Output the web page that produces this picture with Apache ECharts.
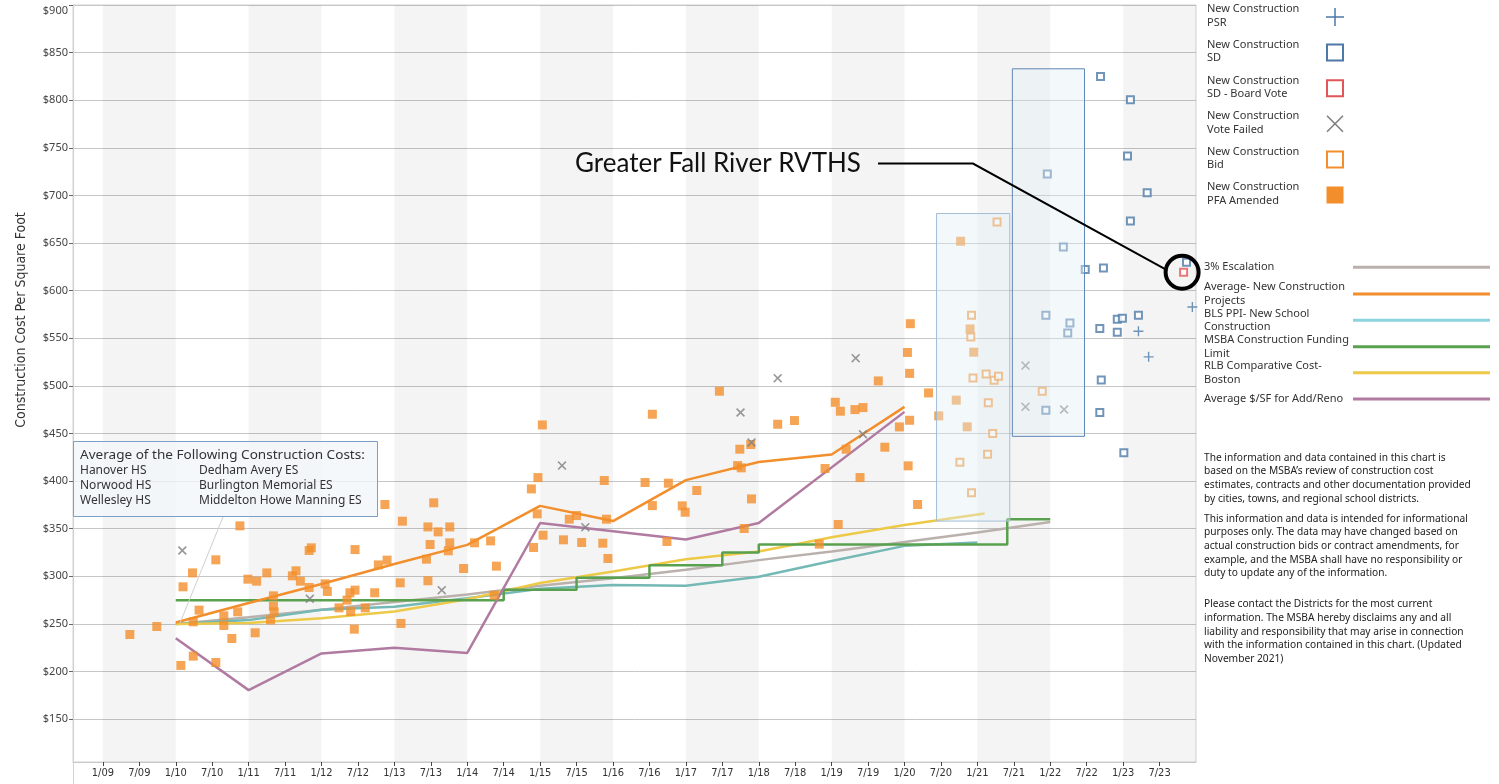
<!DOCTYPE html>
<html><head><meta charset="utf-8">
<script src="https://cdn.jsdelivr.net/npm/echarts@6/dist/echarts.min.js"></script>
<style>html,body{margin:0;padding:0;background:#fff}#c{width:1499px;height:784px}</style>
</head><body><div id="c"></div>
<script>
// ---------- axis ticks ----------
const xTickValues = [2009,2009.5,2010,2010.5,2011,2011.5,2012,2012.5,2013,2013.5,2014,2014.5,2015,2015.5,2016,2016.5,2017,2017.5,2018,2018.5,2019,2019.5,2020,2020.5,2021,2021.5,2022,2022.5,2023,2023.5];
const xTickLabels = ['1/09','7/09','1/10','7/10','1/11','7/11','1/12','7/12','1/13','7/13','1/14','7/14','1/15','7/15','1/16','7/16','1/17','7/17','1/18','7/18','1/19','7/19','1/20','7/20','1/21','7/21','1/22','7/22','1/23','7/23'];
const yTickValues = [150,200,250,300,350,400,450,500,550,600,650,700,750,800,850,900];
const yTickLabels = ['$150','$200','$250','$300','$350','$400','$450','$500','$550','$600','$650','$700','$750','$800','$850','$900'];
const shadedYears = [2009,2011,2013,2015,2017,2019,2021,2023];

// ---------- scatter series (decimal year, $/sf) ----------
const pfaAmended = [
 [2009.37,238.9],[2009.74,247.3],[2010.07,206.4],[2010.10,289.0],[2010.23,303.6],[2010.24,216.2],[2010.24,252.2],[2010.32,264.5],[2010.55,317.3],[2010.55,209.5],
 [2010.66,258.5],[2010.66,248.4],[2010.77,234.7],[2010.85,262.7],[2010.88,353.0],[2010.99,297.0],[2011.11,294.9],[2011.09,240.7],[2011.25,303.6],[2011.34,279.5],
 [2011.34,268.7],[2011.35,262.7],[2011.30,254.3],[2011.60,300.5],[2011.65,305.8],[2011.71,294.9],[2011.83,327.1],[2011.86,329.9],[2011.83,288.3],[2012.05,292.1],
 [2012.08,284.1],[2012.24,266.9],[2012.35,275.0],[2012.39,282.7],[2012.46,328.1],[2012.46,285.5],[2012.40,263.1],[2012.45,244.5],[2012.60,266.9],[2012.73,282.7],
 [2012.78,312.0],[2012.90,317.0],[2012.87,375.4],
 [2013.11,357.9],[2013.54,377.2],[2013.46,351.9],[2013.76,351.9],[2013.60,346.7],[2013.49,333.4],[2013.76,335.2],[2013.74,326.8],[2013.44,318.0],[2013.95,308.2],
 [2014.10,335.2],[2014.32,337.2],[2014.40,310.7],[2013.08,293.2],[2013.46,295.3],[2013.09,250.5],[2014.37,280.2],[2015.03,459.0],[2014.97,403.7],[2014.88,391.8],
 [2014.96,365.6],[2015.04,343.2],[2014.91,330.3],[2015.40,360.0],[2015.50,363.8],[2015.32,338.3],[2015.57,335.5],[2015.86,334.8],[2015.93,318.7],[2015.91,360.0],
 [2015.88,400.6],[2016.54,470.2],[2016.44,398.5],[2016.76,397.8],[2016.54,374.3],[2016.74,336.6],[2016.95,374.0],[2016.99,367.3],[2017.15,390.1],[2017.46,494.4],
 [2017.74,433.5],[2017.89,438.4],[2017.71,416.3],[2017.76,413.9],[2017.90,381.3],[2017.80,350.2],[2018.26,459.7],[2018.49,463.6],[2019.05,482.8],[2019.12,473.4],
 [2019.32,475.1],[2019.43,477.2],[2019.64,505.2],[2020.33,492.6],[2019.93,456.9],[2020.07,463.9],[2019.73,435.6],[2020.05,416.0],[2020.18,375.4],[2019.39,403.7],
 [2018.91,413.2],[2019.20,433.5],[2019.09,354.4],[2018.83,333.8],
 [2020.08,565.3],[2020.04,535.1],[2020.07,513.1],
 [2020.77,651.9],[2020.90,559.8],[2020.95,535.4],[2020.71,485.0],[2020.47,468.5],[2020.86,457.0]
];
const bid = [[2021.27,672.2],[2020.92,574.2],[2020.91,551.4],[2020.94,508.4],[2021.12,512.6],[2021.23,506.0],[2021.29,510.2],[2021.15,482.2],[2021.21,450.0],[2021.14,428.3],[2020.76,419.9],[2020.92,387.7],[2021.89,494.4]];
const voteFailed = [[2010.09,327.1],[2011.84,276.4],[2013.65,285.5],[2015.30,416.3],[2015.62,351.6],[2017.75,472.0],[2017.90,440.5],[2019.43,449.2],[2018.26,508.1],[2019.33,529.1],[2021.66,521.3],[2021.66,478.0],[2022.19,475.2]];
const sd = [[2022.18,645.9],[2022.48,622.1],[2022.73,623.9],[2021.94,574.2],[2022.27,566.1],[2022.24,555.6],[2022.68,560.2],[2022.92,570.0],[2022.99,571.0],[2023.21,574.2],[2022.92,556.3],[2022.70,506.3],[2021.94,474.5],[2022.68,472.0],[2023.01,429.7],[2023.87,629.8],[2023.10,673.2],[2022.69,825.0],[2023.10,800.5],[2023.06,741.3],[2023.33,702.8],[2021.96,722.4]];
const sdBoardVote = [[2023.83,619.3]];
const psr = [[2023.21,557.4],[2023.35,530.5],[2023.95,582.9]];

// ---------- line series ----------
const escalation3 = [[2010,250],[2011,257],[2012,265],[2013,273],[2014,281],[2015,290],[2016,298],[2017,307],[2018,317],[2019,326],[2020,336],[2021,346],[2022,357]];
const avgNewConstruction = [[2010,251.5],[2011,272],[2012,292],[2013,313],[2014,333],[2015,374],[2016,358],[2017,401],[2018,420],[2019,428],[2020,478]];
const blsPPI = [[2010,250],[2011,254],[2012,265],[2013,268],[2014,277],[2015,287],[2016,291],[2017,290],[2018,299.5],[2019,316],[2020,332],[2021,335.5]];
const msbaLimit = [[2010,275],[2014.5,286],[2015.5,298.5],[2016.5,311.5],[2017.5,325],[2018,333.5],[2021.41,360],[2022,360]];
const rlbBoston = [[2010,250],[2011,251],[2012,256],[2013,263],[2014,276],[2015,293],[2016,305],[2017,318],[2018,326],[2019,341],[2020,354],[2021.1,366]];
const addReno = [[2010,235],[2011,180.5],[2012,219],[2013,225],[2014,219.5],[2015,356],[2017,338.6],[2018,356],[2020,472.7]];

// highlighted windows [x0, y0, x1, y1]
const highlightBoxes = [[2020.44,358,2021.445,681],[2021.48,447,2022.47,833]];

// ---------- legend text ----------
const markerLegendNames = ['New Construction\nPSR','New Construction\nSD','New Construction\nSD - Board Vote','New Construction\nVote Failed','New Construction\nBid','New Construction\nPFA Amended'];
const lineLegendNames = ['3% Escalation','Average- New Construction\nProjects','BLS PPI- New School\nConstruction','MSBA Construction Funding\nLimit','RLB Comparative Cost-\nBoston','Average $/SF for Add/Reno'];
const disclaimerLines = [
 'The information and data contained in this chart is','based on the MSBA\u2019s review of construction cost','estimates, contracts and other documentation provided','by cities, towns, and regional school districts.',
 'This information and data is intended for informational','purposes only. The data may have changed based on','actual construction bids or contract amendments, for','example, and the MSBA shall have no responsibility or','duty to update any of the information.',
 'Please contact the Districts for the most current','information. The MSBA hereby disclaims any and all','liability and responsibility that may arise in connection','with the information contained in this chart. (Updated','November 2021)'
];
const boxTitle = 'Average of the Following Construction Costs:';
const boxCol1 = ['Hanover HS','Norwood HS','Wellesley HS'];
const boxCol2 = ['Dedham Avery ES','Burlington Memorial ES','Middelton Howe Manning ES'];
const calloutText = 'Greater Fall River RVTHS';

// ---------- styling ----------
const FONT = "'Noto Sans','DejaVu Sans',sans-serif";
const NARROW = "'Liberation Sans Narrow','DejaVu Sans Condensed','Liberation Sans',sans-serif";
const C = {blue:'#4e79a7', orange:'#f28e2b', red:'#e15759', gray:'#7f7f7f', esc:'#bab0ac', teal:'#74b9b5', tealLegend:'#8dd3df', green:'#59a14f', yellow:'#edc948', purple:'#b07aa1'};
const X_PATH = 'path://M1.3,0L5,3.7L8.7,0L10,1.3L6.3,5L10,8.7L8.7,10L5,6.3L1.3,10L0,8.7L3.7,5L0,1.3Z';
const PLUS_PATH = 'path://M4.3,0H5.7V4.3H10V5.7H5.7V10H4.3V5.7H0V4.3H4.3Z';

const chart = echarts.init(document.getElementById('c'));

function lineSeries(name, data, color, extra) {
  return Object.assign({type:'line', name, data, showSymbol:false, symbol:'none', silent:true, z:2,
    lineStyle:{width:2.5, color}, itemStyle:{color}}, extra || {});
}
function hollow(color){ return {color:'#fff', borderColor:color, borderWidth:2}; }

chart.setOption({
  animation:false,
  grid:{left:73, right:303, top:5, bottom:22, show:true, borderColor:'#d2d2d2', borderWidth:1},
  xAxis:{type:'value', min:2008.59, max:2024.0,
    splitLine:{show:false},
    axisLine:{show:true, lineStyle:{color:'#c8c8c8'}},
    axisTick:{show:true, customValues:xTickValues, length:4, lineStyle:{color:'#444'}},
    axisLabel:{customValues:xTickValues, margin:6, fontFamily:NARROW, fontSize:11, color:'#333',
      formatter:v=>{const i=xTickValues.findIndex(t=>Math.abs(t-v)<1e-6); return i>=0?xTickLabels[i]:'';}}
  },
  yAxis:{type:'value', min:105, max:900,
    axisLine:{show:true, lineStyle:{color:'#d2d2d2'}},
    axisTick:{show:true, customValues:yTickValues, length:4, lineStyle:{color:'#666'}},
    axisLabel:{customValues:yTickValues, margin:5, fontFamily:FONT, fontSize:11, color:'#444', verticalAlignMaxLabel:'top',
      formatter:v=>{const i=yTickValues.indexOf(v); return i>=0?yTickLabels[i]:'';}},
    splitLine:{show:true, lineStyle:{color:'#c6c6c6', width:1}}
  },
  series:[
    lineSeries('3% Escalation', escalation3, C.esc, {markArea:{silent:true, itemStyle:{color:'rgba(0,0,0,0.045)'},
      data: shadedYears.map(y=>[{xAxis:y},{xAxis:Math.min(y+1,2024)}])}}),
    lineSeries('BLS PPI- New School Construction', blsPPI, C.teal),
    lineSeries('RLB Comparative Cost- Boston', rlbBoston, C.yellow),
    lineSeries('MSBA Construction Funding Limit', msbaLimit, C.green, {step:'end'}),
    lineSeries('Average $/SF for Add/Reno', addReno, C.purple),
    lineSeries('Average- New Construction Projects', avgNewConstruction, C.orange),
    {type:'scatter', name:'New Construction PFA Amended', data:pfaAmended, symbol:'rect', symbolSize:9, z:3, silent:true, itemStyle:{color:C.orange}},
    {type:'scatter', name:'New Construction Vote Failed', data:voteFailed, symbol:X_PATH, symbolSize:9, z:3, silent:true, itemStyle:{color:C.gray}},
    {type:'scatter', name:'New Construction Bid', data:bid, symbol:'rect', symbolSize:7, z:3, silent:true, itemStyle:hollow(C.orange)},
    {type:'scatter', name:'New Construction SD', data:sd, symbol:'rect', symbolSize:7, z:3, silent:true, itemStyle:hollow(C.blue)},
    {type:'scatter', name:'New Construction SD - Board Vote', data:sdBoardVote, symbol:'rect', symbolSize:7, z:3, silent:true, itemStyle:hollow(C.red)},
    {type:'scatter', name:'New Construction PSR', data:psr, symbol:PLUS_PATH, symbolSize:10, z:3, silent:true, itemStyle:{color:C.blue}},
    {type:'custom', name:'windows', data:highlightBoxes, z:4, silent:true, encode:{x:[0,2], y:[1,3]},
      renderItem:(params, api)=>{
        const p0 = api.coord([api.value(0), api.value(3)]);
        const p1 = api.coord([api.value(2), api.value(1)]);
        const strokes = ['#a3bdd6','#5f87b8'];
        return {type:'rect', shape:{x:p0[0], y:p0[1], width:p1[0]-p0[0], height:p1[1]-p0[1]},
          style:{fill:'rgba(226,237,245,0.4)', stroke:strokes[params.dataIndex], lineWidth:1}};
      }}
  ]
});

// ---------- annotations & legends ----------
const g = [];
// y axis title
g.push({type:'text', x:21, y:320, rotation:Math.PI/2, style:{text:'Construction Cost Per Square Foot', font:'14px '+NARROW, fill:'#333', align:'center', verticalAlign:'middle'}});
// left axis extension below plot
g.push({type:'line', shape:{x1:73.5, y1:762, x2:73.5, y2:784}, style:{stroke:'#d2d2d2', lineWidth:1}});
// info box
g.push({type:'rect', z:10, shape:{x:73.5, y:441.5, width:304, height:75}, style:{fill:'rgba(241,246,250,0.8)', stroke:'#7d9ec7', lineWidth:1}});
g.push({type:'text', z:11, x:80, y:456, scaleX:1.13, style:{text:boxTitle, font:'12px '+FONT, fill:'#333', verticalAlign:'middle'}});
boxCol1.forEach((t,i)=>g.push({type:'text', z:11, x:80, y:470.5+14.8*i, style:{text:t, font:'12px '+FONT, fill:'#333', verticalAlign:'middle'}}));
boxCol2.forEach((t,i)=>g.push({type:'text', z:11, x:199, y:470.5+14.8*i, style:{text:t, font:'12px '+FONT, fill:'#333', verticalAlign:'middle'}}));
g.push({type:'line', z:9, shape:{x1:223, y1:517, x2:180, y2:623}, style:{stroke:'#cfcfcf', lineWidth:1}});
// callout
g.push({type:'text', z:11, x:575, y:164, style:{text:calloutText, font:'26px Lato,'+FONT, fill:'#111', verticalAlign:'middle'}});
const cp = chart.convertToPixel({gridIndex:0}, sdBoardVote[0]);
g.push({type:'polyline', z:11, shape:{points:[[878,163.5],[973,163.5],[cp[0]-18,cp[1]-3]]}, style:{stroke:'#000', lineWidth:2, fill:null}});
g.push({type:'circle', z:11, shape:{cx:cp[0]-1.5, cy:cp[1], r:16.5}, style:{stroke:'#000', lineWidth:4, fill:null}});
// marker legend
const mTop = [2.5,38.1,73.7,109.3,144.9,180.5];
markerLegendNames.forEach((n,i)=>{
  g.push({type:'text', x:1207, y:mTop[i], style:{text:n, font:'11px '+FONT, fill:'#333', lineHeight:13.5, verticalAlign:'top'}});
});
const mc = mTop.map(t=>t+14.5), ix = 1335;
g.push({type:'line', shape:{x1:ix-9, y1:mc[0], x2:ix+9, y2:mc[0]}, style:{stroke:C.blue, lineWidth:1.5}});
g.push({type:'line', shape:{x1:ix, y1:mc[0]-9, x2:ix, y2:mc[0]+9}, style:{stroke:C.blue, lineWidth:1.5}});
g.push({type:'rect', shape:{x:ix-8, y:mc[1]-8, width:16, height:16}, style:{stroke:C.blue, lineWidth:2, fill:'#fff'}});
g.push({type:'rect', shape:{x:ix-8, y:mc[2]-8, width:16, height:16}, style:{stroke:C.red, lineWidth:2, fill:'#fff'}});
g.push({type:'line', shape:{x1:ix-8, y1:mc[3]-8, x2:ix+8, y2:mc[3]+8}, style:{stroke:C.gray, lineWidth:1.6}});
g.push({type:'line', shape:{x1:ix-8, y1:mc[3]+8, x2:ix+8, y2:mc[3]-8}, style:{stroke:C.gray, lineWidth:1.6}});
g.push({type:'rect', shape:{x:ix-8, y:mc[4]-8, width:16, height:16}, style:{stroke:C.orange, lineWidth:2, fill:'#fff'}});
g.push({type:'rect', shape:{x:ix-8.5, y:mc[5]-8.5, width:17, height:17}, style:{fill:C.orange}});
// line legend
const lY = [267.3,294,320.3,346.7,372.7,399];
const lCol = [C.esc, C.orange, C.tealLegend, C.green, C.yellow, C.purple];
lineLegendNames.forEach((n,i)=>{
  g.push({type:'text', x:1204, y:lY[i], style:{text:n, font:'11px '+FONT, fill:'#333', lineHeight:13.5, verticalAlign:'middle'}});
  g.push({type:'line', shape:{x1:1353, y1:lY[i], x2:1490, y2:lY[i]}, style:{stroke:lCol[i], lineWidth:3}});
});
// disclaimer
const dY = [457.7,471.4,485.1,498.8, 518.7,532.4,546.1,559.8,573.5, 604.3,618,631.7,645.4,659.1];
disclaimerLines.forEach((t,i)=>g.push({type:'text', x:1204, y:dY[i], style:{text:t, font:'10.2px '+FONT, fill:'#222', verticalAlign:'middle'}}));

chart.setOption({graphic:{elements:g}});
</script></body></html>
